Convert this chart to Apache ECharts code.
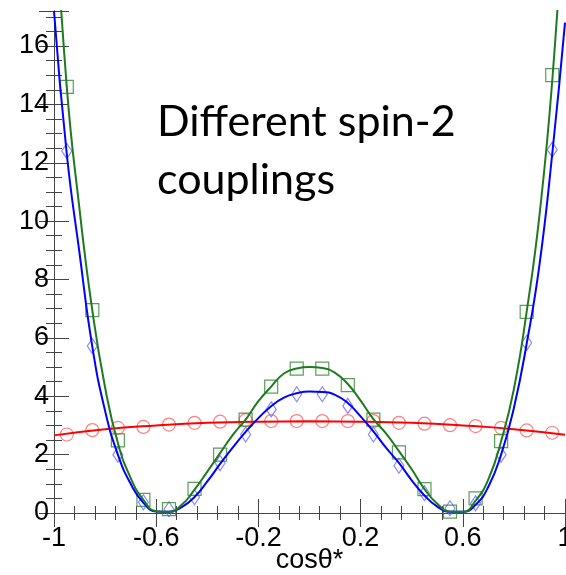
<!DOCTYPE html>
<html>
<head>
<meta charset="utf-8">
<script src="https://cdn.jsdelivr.net/npm/echarts@6/dist/echarts.min.js"></script>
<style>
  html, body { margin: 0; padding: 0; background: #fff; }
  #main { width: 566px; height: 575px; }
</style>
</head>
<body>
<div id="main"></div>
<script>
// bin centres of the histograms (cos theta*)
var binX = [-0.95, -0.85, -0.75, -0.65, -0.55, -0.45, -0.35, -0.25, -0.15, -0.05,
            0.05, 0.15, 0.25, 0.35, 0.45, 0.55, 0.65, 0.75, 0.85, 0.95];
var redPts   = [2.69, 2.84, 2.92, 2.95, 3.03, 3.09, 3.13, 3.18, 3.15, 3.15,
                3.15, 3.15, 3.15, 3.09, 3.06, 3.01, 2.98, 2.92, 2.83, 2.75];
var bluePts  = [12.4, 5.72, 2.0, 0.37, 0.13, 0.54, 1.71, 2.69, 3.55, 4.07,
                4.07, 3.67, 2.69, 1.62, 0.68, 0.16, 0.33, 2.0, 5.83, 12.45];
var greenPts = [14.6, 6.95, 2.49, 0.45, 0.13, 0.83, 2.0, 3.2, 4.33, 4.95,
                4.95, 4.38, 3.2, 2.08, 0.82, 0.05, 0.5, 2.46, 6.89, 15.0];

// fitted curves
var curveX = [-1, -0.95, -0.9, -0.85, -0.8, -0.75, -0.7, -0.65, -0.6, -0.55, -0.5,
              -0.45, -0.4, -0.35, -0.3, -0.25, -0.2, -0.15, -0.1, -0.05, 0,
              0.05, 0.1, 0.15, 0.2, 0.25, 0.3, 0.35, 0.4, 0.45, 0.5,
              0.55, 0.6, 0.65, 0.7, 0.75, 0.8, 0.85, 0.9, 0.95, 1];
var greenCurve = [21.5, 14.6, 10.4, 6.94, 4.3, 2.4, 1.2, 0.45, 0.06, 0.04, 0.28,
                  0.8, 1.42, 2.05, 2.68, 3.2, 3.83, 4.33, 4.78, 4.95, 5.0,
                  4.97, 4.8, 4.42, 3.85, 3.22, 2.72, 2.12, 1.5, 0.82, 0.32,
                  0.05, 0.04, 0.42, 1.15, 2.46, 4.25, 6.9, 10.2, 14.8, 21.5];
var blueCurve = [17.2, 12.3, 8.9, 5.7, 3.5, 2.0, 1.0, 0.35, 0.05, 0.04, 0.2,
                 0.55, 1.08, 1.68, 2.25, 2.78, 3.25, 3.66, 3.95, 4.1, 4.16,
                 4.15, 4.05, 3.77, 3.31, 2.8, 2.23, 1.72, 1.12, 0.6, 0.22,
                 0.04, 0.04, 0.28, 0.9, 2.0, 3.6, 5.8, 8.5, 12.3, 16.8];
var redX = [-1, -0.8, -0.6, -0.4, -0.2, 0, 0.2, 0.4, 0.6, 0.8, 1];
var redCurve = [2.66, 2.87, 3.0, 3.09, 3.13, 3.14, 3.13, 3.09, 3.0, 2.87, 2.68];

var xLabels = ['-1', '-0.6', '-0.2', '0.2', '0.6', '1'];
var yLabels = ['0', '2', '4', '6', '8', '10', '12', '14', '16'];
var yMax = 17.2;

// x axis runs 0..2 internally (cos + 1) so ticks start on a multiple of the interval
function pairs(xs, ys) {
    return xs.map(function (x, i) { return [x + 1, ys[i]]; });
}

var font = 'Liberation Sans';
var axisCol = '#444';

function xLabel(v) {
    var r = v / 0.4;
    if (Math.abs(r - Math.round(r)) > 1e-6) return '';
    return xLabels[Math.round(r)] || '';
}
function yLabel(v) {
    var r = v / 2;
    if (Math.abs(r - Math.round(r)) > 1e-6) return '';
    return yLabels[Math.round(r)] || '';
}

function gridPos() {
    return {left: 54, right: 1, top: 11, bottom: 62, containLabel: false, outerBoundsMode: 'none'};
}

var myChart = echarts.init(document.getElementById('main'));

option = {
    animation: false,
    grid: [gridPos(), gridPos()],
    xAxis: [
        {   // bottom, minor ticks + labels
            type: 'value', gridIndex: 0, position: 'bottom', min: 0, max: 2, interval: 0.08,
            axisLine: {show: true, lineStyle: {color: axisCol, width: 1}},
            axisTick: {show: true, inside: true, length: 7, lineStyle: {color: axisCol}},
            axisLabel: {formatter: xLabel, fontSize: 27, fontFamily: font, color: '#000', margin: 12},
            splitLine: {show: false},
            name: 'cosθ*', nameLocation: 'middle', nameGap: 34, nameMoveOverlap: false,
            nameTextStyle: {fontSize: 27, fontFamily: font, color: '#000'}
        },
        {   // top, minor ticks
            type: 'value', gridIndex: 0, position: 'top', min: 0, max: 2, interval: 0.08,
            axisLine: {show: true, lineStyle: {color: axisCol, width: 1}},
            axisTick: {show: true, inside: true, length: 7, lineStyle: {color: axisCol}},
            axisLabel: {show: false},
            splitLine: {show: false}
        },
        {   // bottom, major ticks
            type: 'value', gridIndex: 1, position: 'bottom', min: 0, max: 2, interval: 0.4,
            axisLine: {show: false},
            axisTick: {show: true, inside: true, length: 14, lineStyle: {color: axisCol}},
            axisLabel: {show: false},
            splitLine: {show: false}
        },
        {   // top, major ticks
            type: 'value', gridIndex: 1, position: 'top', min: 0, max: 2, interval: 0.4,
            axisLine: {show: false},
            axisTick: {show: true, inside: true, length: 14, lineStyle: {color: axisCol}},
            axisLabel: {show: false},
            splitLine: {show: false}
        }
    ],
    yAxis: [
        {
            type: 'value', gridIndex: 0, position: 'left', min: 0, max: yMax, interval: 0.5,
            axisLine: {show: true, lineStyle: {color: axisCol, width: 1}},
            axisTick: {show: true, inside: true, length: 8, lineStyle: {color: axisCol}},
            axisLabel: {formatter: yLabel, fontSize: 27, fontFamily: font, color: '#000', margin: 5},
            splitLine: {show: false}
        },
        {
            type: 'value', gridIndex: 0, position: 'right', min: 0, max: yMax, interval: 0.5,
            axisLine: {show: true, lineStyle: {color: axisCol, width: 1}},
            axisTick: {show: true, inside: true, length: 8, lineStyle: {color: axisCol}},
            axisLabel: {show: false},
            splitLine: {show: false}
        },
        {
            type: 'value', gridIndex: 1, position: 'left', min: 0, max: yMax, interval: 2,
            axisLine: {show: false},
            axisTick: {show: true, inside: true, length: 15, lineStyle: {color: axisCol}},
            axisLabel: {show: false},
            splitLine: {show: false}
        },
        {
            type: 'value', gridIndex: 1, position: 'right', min: 0, max: yMax, interval: 2,
            axisLine: {show: false},
            axisTick: {show: true, inside: true, length: 15, lineStyle: {color: axisCol}},
            axisLabel: {show: false},
            splitLine: {show: false}
        }
    ],
    graphic: [
        {
            type: 'text', left: 157, top: 93,
            style: {
                text: 'Different spin-2\ncouplings',
                font: '43px Lato', lineHeight: 58, fill: '#000'
            }
        }
    ],
    series: [
        {
            type: 'scatter', xAxisIndex: 0, yAxisIndex: 0, data: pairs(binX, redPts),
            symbol: 'circle', symbolSize: 13,
            itemStyle: {color: 'rgba(0,0,0,0)', borderColor: '#ff6060', borderWidth: 1.2}
        },
        {
            type: 'scatter', xAxisIndex: 0, yAxisIndex: 0, data: pairs(binX, bluePts),
            symbol: 'diamond', symbolSize: [10, 15],
            itemStyle: {color: 'rgba(0,0,0,0)', borderColor: '#6a6aff', borderWidth: 1.2}
        },
        {
            type: 'scatter', xAxisIndex: 0, yAxisIndex: 0, data: pairs(binX, greenPts),
            symbol: 'rect', symbolSize: 13,
            itemStyle: {color: 'rgba(0,0,0,0)', borderColor: '#2f862f', borderWidth: 1.2}
        },
        {
            type: 'line', xAxisIndex: 0, yAxisIndex: 0, data: pairs(redX, redCurve),
            smooth: true, showSymbol: false, clip: true,
            lineStyle: {color: '#ff0000', width: 2}
        },
        {
            type: 'line', xAxisIndex: 0, yAxisIndex: 0, data: pairs(curveX, blueCurve),
            smooth: true, showSymbol: false, clip: true,
            lineStyle: {color: '#0000ff', width: 2}
        },
        {
            type: 'line', xAxisIndex: 0, yAxisIndex: 0, data: pairs(curveX, greenCurve),
            smooth: true, showSymbol: false, clip: true,
            lineStyle: {color: '#1f7a1f', width: 2}
        }
    ]
};

myChart.setOption(option);
</script>
</body>
</html>
